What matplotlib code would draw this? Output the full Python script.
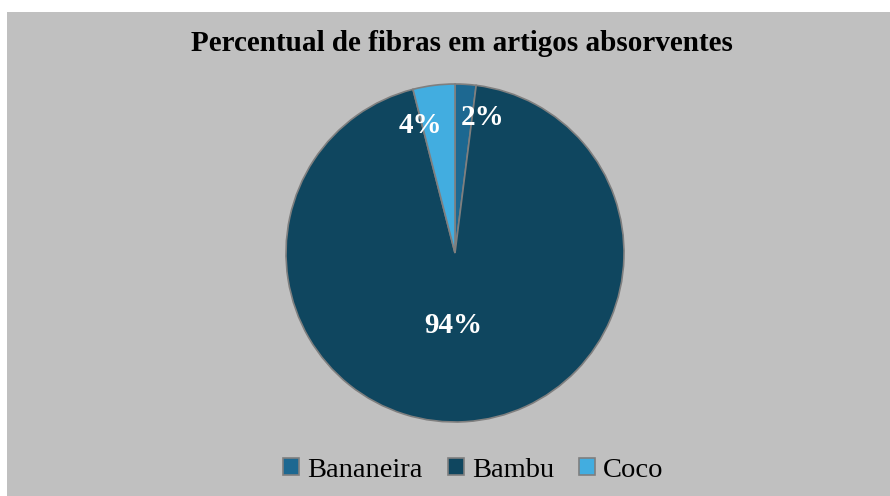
import numpy as np
import matplotlib.pyplot as plt

labels = ['Bananeira', 'Bambu', 'Coco']
values = [2, 94, 4]
colors = ['#1d6891', '#0f465f', '#42ade0']
# label placement (distance from centre, sideways nudge), like Excel's best fit
label_dist = [0.805, 0.427, 0.763]
label_dx = [0.11, -0.035, -0.11]

plt.rcParams['font.family'] = ['Liberation Serif', 'DejaVu Serif']

fig = plt.figure(figsize=(8.9, 4.96), dpi=100)
fig.patch.set_facecolor('white')

# gray chart area
bg = fig.add_axes([7 / 890, 0, 1 - 7 / 890, 1 - 12 / 496])
bg.set_facecolor('#c0c0c0')
bg.set_xticks([])
bg.set_yticks([])
for s in bg.spines.values():
    s.set_visible(False)

ax = fig.add_axes([286 / 890, 74 / 496, 338 / 890, 338 / 496])
ax.patch.set_alpha(0)
wedges, _ = ax.pie(values, colors=colors, startangle=90, counterclock=False, radius=1.0,
                   wedgeprops=dict(edgecolor='#7f7f7f', linewidth=1.2))
ax.set_xlim(-1, 1)
ax.set_ylim(-1, 1)
ax.set_aspect('equal')

for w, v, d, dx in zip(wedges, values, label_dist, label_dx):
    ang = np.deg2rad((w.theta1 + w.theta2) / 2)
    ax.text(d * np.cos(ang) + dx, d * np.sin(ang), f'{v}%', ha='center', va='center',
            color='white', fontsize=21, fontweight='bold')

fig.text(0.519, 0.912, 'Percentual de fibras em artigos absorventes', ha='center', va='center',
         fontsize=21, fontweight='bold')

leg = fig.legend(wedges, labels, loc='center', bbox_to_anchor=(0.532, 0.052), ncol=3, frameon=False,
                 fontsize=20.5, handlelength=0.55, handleheight=0.55, handletextpad=0.28,
                 columnspacing=0.9)

plt.savefig('out.png', dpi=100)
